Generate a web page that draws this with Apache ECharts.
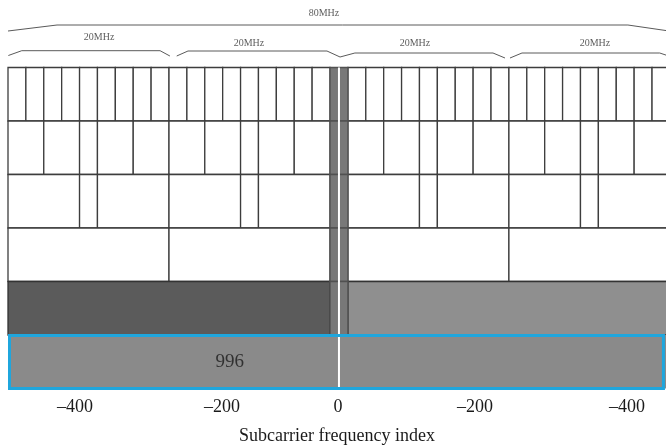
<!DOCTYPE html>
<html><head><meta charset="utf-8">
<script src="https://cdn.jsdelivr.net/npm/echarts@6/dist/echarts.min.js"></script>
<style>html,body{margin:0;padding:0;background:#fff}#c{width:666px;height:447px}</style>
</head><body><div id="c"></div>
<script>
// ---- data (positions in units of 26-tone RU slots, 37 slots across 80 MHz) ----
const ru26 = [[0,1],[1,2],[2,3],[3,4],[4,5],[5,6],[6,7],[7,8],[8,9],[9,10],[10,11],[11,12],[12,13],[13,14],[14,15],[15,16],[16,17],[17,18],
              [19,20],[20,21],[21,22],[22,23],[23,24],[24,25],[25,26],[26,27],[27,28],[28,29],[29,30],[30,31],[31,32],[32,33],[33,34],[34,35],[35,36],[36,37]];
const ru52 = [[0,2],[2,4],[4,5],[5,7],[7,9],[9,11],[11,13],[13,14],[14,16],[16,18],
              [19,21],[21,23],[23,24],[24,26],[26,28],[28,30],[30,32],[32,33],[33,35],[35,37]];
const ru106 = [[0,4],[4,5],[5,9],[9,13],[13,14],[14,18],[19,23],[23,24],[24,28],[28,32],[32,33],[33,37]];
const ru242 = [[0,9],[9,18],[19,28],[28,37]];
const ru484Left = [[0,18]];
const ru484Right = [[19,37]];
const ru996 = [[0,37]];
const centerRU = [18,19];           // central 26-tone RU (split by DC)
const centerRows = [0,1,2,3,4];
const dcLine = [18.5, 0, 6];        // x, from row, to row
const ru996Label = {x: 12.4, row: 5.5, text: '996'};
const highlightBox = [0, 36.72, 5]; // start, end, row
const visibleSlots = 36.78;         // the figure is cut off at the right edge
const xTickPos = [3.74, 11.96, 18.45, 26.1, 34.6];
const xTickLabels = ['\u2013400','\u2013200','0','\u2013200','\u2013400'];
const xAxisTitle = 'Subcarrier frequency index';
// bandwidth braces: [x(slot), y(px in header band)]
const brace80 = [[0,31],[2.74,25],[34.65,25],[36.95,31]];
const braces20 = [
  [[0.02,55.5],[0.77,50.7],[8.5,50.7],[9.05,56]],
  [[9.43,56],[10.06,51],[17.83,51],[18.56,57]],
  [[18.56,57],[19.39,53],[27.11,53],[27.78,58]],
  [[28.06,58],[28.73,53],[36.43,53],[37.1,57]]
];
const braceLabels = [
  {x:17.66, y:13, text:'80MHz'},
  {x:5.09, y:37, text:'20MHz'},
  {x:13.47, y:43, text:'20MHz'},
  {x:22.75, y:43, text:'20MHz'},
  {x:32.81, y:43, text:'20MHz'}
];

// ---- chart ----
const FONT = '"Liberation Serif","Times New Roman",serif';
const chart = echarts.init(document.getElementById('c'), null, {renderer:'canvas'});

function rows(list, r){ return list.map(d => [d[0], d[1], r]); }

function rectSeries(name, data, style, z){
  return {
    type:'custom', name, xAxisIndex:0, yAxisIndex:0, z: z||2, silent:true, clip:false,
    data,
    renderItem(params, api){
      const p0 = api.coord([api.value(0), api.value(2)]);
      const p1 = api.coord([api.value(1), api.value(2)+1]);
      const ins = style.inset || 0;
      return {type:'rect',
        shape:{x:p0[0]+ins, y:p0[1]+ins*0.3, width:p1[0]-p0[0]-2*ins, height:p1[1]-p0[1]-ins*0.3},
        style:{fill:style.fill, stroke:style.stroke, lineWidth:style.lw}};
    }
  };
}

const whiteCell = {fill:'#ffffff', stroke:'#3d3d3d', lw:1.3};
const series = [
  rectSeries('RU26', rows(ru26,0), whiteCell),
  rectSeries('RU52', rows(ru52,1), whiteCell),
  rectSeries('RU106', rows(ru106,2), whiteCell),
  rectSeries('RU242', rows(ru242,3), whiteCell),
  rectSeries('RU484L', rows(ru484Left,4), {fill:'#5b5b5b', stroke:'#333', lw:1.3}),
  rectSeries('RU484R', rows(ru484Right,4), {fill:'#8f8f8f', stroke:'#333', lw:1.3}),
  rectSeries('RU996', rows(ru996,5), {fill:'#8a8a8a', stroke:'#8a8a8a', lw:0}),
  rectSeries('center', centerRows.map(r => [centerRU[0], centerRU[1], r]), {fill:'#787878', stroke:'#505050', lw:1.3}, 3),
  {
    type:'line', xAxisIndex:0, yAxisIndex:0, z:4, symbol:'none', silent:true,
    data:[[dcLine[0], dcLine[1]],[dcLine[0], dcLine[2]]],
    lineStyle:{color:'#ffffff', width:2}
  },
  rectSeries('highlight', [highlightBox], {fill:'none', stroke:'#1fa6dd', lw:3, inset:1.5}, 5),
  {
    type:'scatter', xAxisIndex:0, yAxisIndex:0, z:6, symbolSize:0, silent:true,
    data:[{value:[ru996Label.x, ru996Label.row], name:ru996Label.text}],
    label:{show:true, position:'inside', formatter:'{b}', fontFamily:FONT, fontSize:19, color:'#1a1a1a'}
  }
];
// braces
[brace80].concat(braces20).forEach(b => series.push({
  type:'line', xAxisIndex:1, yAxisIndex:1, symbol:'none', silent:true, clip:false, data:b,
  lineStyle:{color:'#5a5a5a', width:1}
}));
series.push({
  type:'scatter', xAxisIndex:1, yAxisIndex:1, symbolSize:0, silent:true,
  data: braceLabels.map(l => ({value:[l.x,l.y], name:l.text})),
  label:{show:true, position:'inside', formatter:'{b}', fontFamily:FONT, fontSize:10, color:'#333'}
});

chart.setOption({
  animation:false,
  backgroundColor:'#ffffff',
  grid:[
    {left:8, top:67.5, width:658, height:321, outerBoundsMode:'none', containLabel:false},
    {left:8, top:0, width:658, height:67.5, outerBoundsMode:'none', containLabel:false}
  ],
  xAxis:[
    {type:'value', gridIndex:0, min:0, max:visibleSlots,
     axisLine:{show:false}, axisTick:{show:false}, splitLine:{show:false},
     axisLabel:{show:true, customValues:xTickPos, margin:10, fontFamily:FONT, fontSize:18, color:'#1a1a1a',
       formatter:v => { let k=0, best=1e9; xTickPos.forEach((p,i)=>{ if(Math.abs(p-v)<best){best=Math.abs(p-v);k=i;} }); return xTickLabels[k]; }},
     name:xAxisTitle, nameLocation:'middle', nameGap:39,
     nameTextStyle:{fontFamily:FONT, fontSize:18, color:'#1a1a1a'}},
    {type:'value', gridIndex:1, min:0, max:visibleSlots, show:false}
  ],
  yAxis:[
    {type:'value', gridIndex:0, min:0, max:6, inverse:true, show:false},
    {type:'value', gridIndex:1, min:0, max:67.5, inverse:true, show:false}
  ],
  series
});
</script></body></html>
